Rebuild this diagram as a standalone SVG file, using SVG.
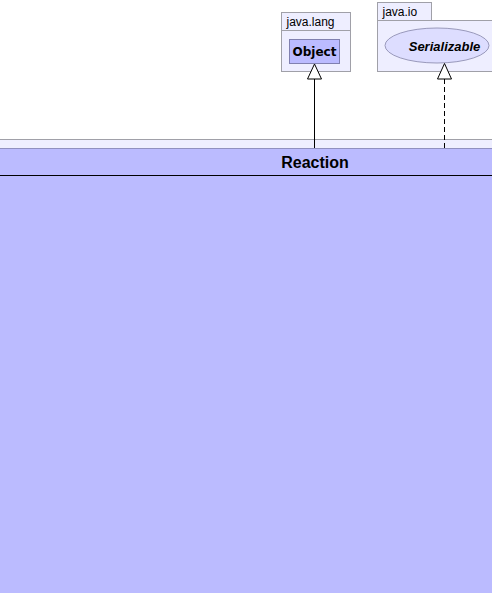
<svg xmlns="http://www.w3.org/2000/svg" width="492" height="593" viewBox="0 0 492 593">
<defs>
<style>
.pkg{fill:#eeeeff;stroke:#a0a0a8;stroke-width:1}
.cls{fill:#bbbbff;stroke:#8080b0;stroke-width:1}
.t{font-family:"Liberation Sans",Arial,sans-serif;fill:#000}
.conn{stroke:#000;stroke-width:1;fill:none}
.head{fill:#fff;stroke:#000;stroke-width:1}
</style>
</defs>
<rect width="492" height="593" fill="#fff"/>
<g id="pkg-main">
<rect x="-1" y="139.5" width="494" height="460" class="pkg"/>
</g>
<g id="Reaction">
<rect x="-1" y="148.5" width="494" height="450" fill="#bbbbff" stroke="#9090c0"/>
<line x1="-1" y1="175.5" x2="493" y2="175.5" stroke="#000"/>
<text x="315" y="168" class="t" font-size="16" font-weight="bold" text-anchor="middle">Reaction</text>
</g>
<g id="java.lang">
<rect x="281.5" y="12.5" width="69" height="59" class="pkg"/>
<line x1="281.5" y1="30.5" x2="350.5" y2="30.5" stroke="#a0a0a8"/>
<text x="286.5" y="26" class="t" font-size="12">java.lang</text>
</g>
<g id="Object">
<rect x="289.5" y="39.5" width="50" height="24" class="cls"/>
<text x="314.5" y="56" font-size="12" font-weight="bold" text-anchor="middle" style="font-family:'DejaVu Sans',sans-serif">Object</text>
</g>
<g id="java.io">
<rect x="377.5" y="2.5" width="54" height="18" class="pkg"/>
<rect x="377.5" y="20.5" width="120" height="51" class="pkg"/>
<text x="382.5" y="16" class="t" font-size="12">java.io</text>
</g>
<g id="Serializable">
<ellipse cx="437" cy="45.5" rx="52" ry="17.5" fill="#ddddff" stroke="#9999bb"/>
<text x="444.5" y="50.5" class="t" font-size="13" font-weight="bold" font-style="italic" text-anchor="middle">Serializable</text>
</g>
<g id="connectors">
<line x1="314.5" y1="79" x2="314.5" y2="148" class="conn"/>
<polygon points="314.5,64 307.5,79 321.5,79" class="head"/>
<line x1="444.5" y1="79" x2="444.5" y2="148" class="conn" stroke-dasharray="5,3"/>
<polygon points="444.5,63.5 437.5,79 451.5,79" class="head"/>
</g>
</svg>
